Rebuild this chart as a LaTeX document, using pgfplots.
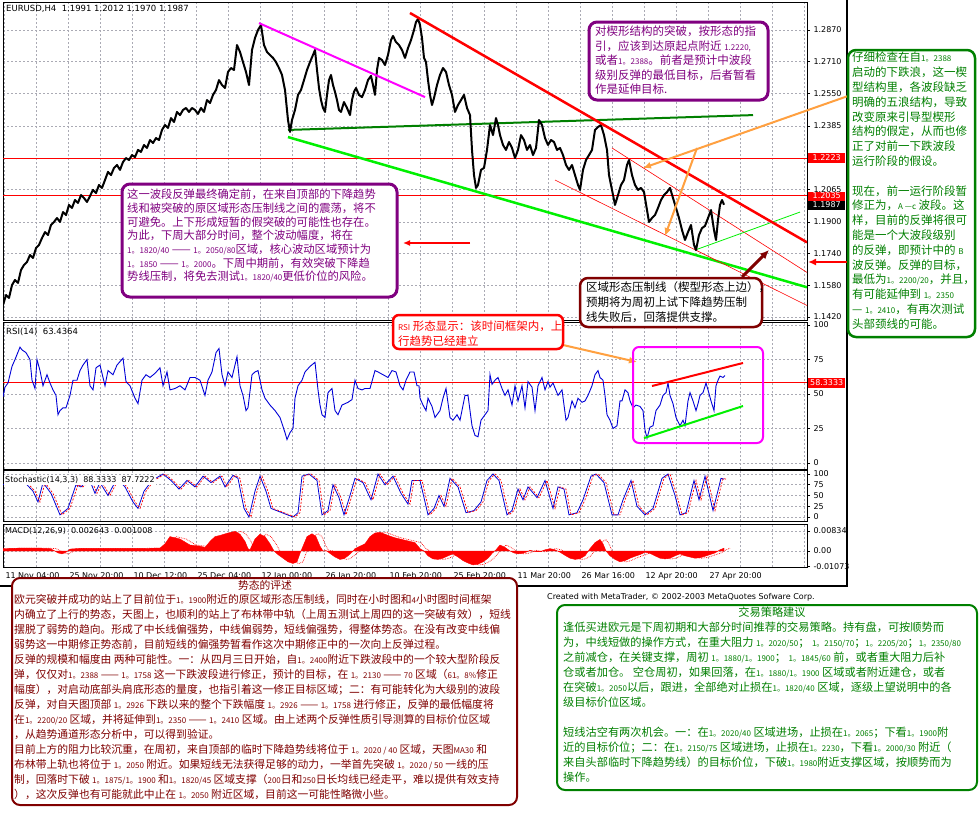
\documentclass[border=0pt]{standalone}
\usepackage{pgfplots}
\pgfplotsset{compat=1.18}
\usepackage{pgfplotstable}
\usepackage{fontspec}
\setmainfont{DejaVu Sans}
\newfontfamily\cjk{Noto Sans CJK SC}
\usetikzlibrary{arrows.meta}

\definecolor{mtpurple}{RGB}{128,0,128}
\definecolor{mtmaroon}{RGB}{128,0,0}
\definecolor{mtgreen}{RGB}{0,128,0}
\definecolor{mtlime}{RGB}{0,240,0}
\definecolor{mtorange}{RGB}{255,160,64}
\definecolor{mtmagenta}{RGB}{255,0,255}
\definecolor{mtblue}{RGB}{0,0,215}
\definecolor{mtgrid}{RGB}{170,170,180}

\newcommand\nm[1]{{\fontsize{8}{8}\selectfont #1}}

\pgfplotsset{
  mtpanel/.style={
    scale only axis, width=804pt, anchor=north west,
    xmin=3, xmax=807,
    axis line style={black, line width=0.8pt},
    xtick={4,36,...,804}, xticklabels={},
    xmajorgrids, ymajorgrids,
    major grid style={mtgrid, dash pattern=on 2pt off 2pt, line width=0.6pt},
    ytick pos=right, yticklabel pos=right,
    tick align=outside, major tick length=3pt,
    xtick style={draw=none},
    ytick style={black, line width=0.6pt},
    scaled y ticks=false,
    ticklabel style={font=\fontsize{8}{9}\selectfont, text=black},
  }
}

% EURUSD H4 closes (x = bar position, y = price)
\pgfplotstableread{
x p
3 1.1480
6 1.1531
9 1.1516
12 1.1581
15 1.1607
18 1.1592
21 1.1657
24 1.1683
27 1.1698
30 1.1733
33 1.1718
36 1.1768
39 1.1784
42 1.1819
45 1.1849
48 1.1834
51 1.1885
54 1.1900
57 1.1920
60 1.1900
63 1.1950
66 1.1935
69 1.1986
72 1.1971
75 1.2011
78 1.1996
81 1.2036
84 1.2021
87 1.2001
90 1.2031
93 1.2062
96 1.2046
99 1.2087
102 1.2072
105 1.2112
108 1.2153
111 1.2137
114 1.2173
117 1.2188
120 1.2163
123 1.2203
126 1.2223
129 1.2213
132 1.2238
135 1.2228
138 1.2264
141 1.2254
144 1.2289
147 1.2274
150 1.2314
153 1.2299
156 1.2324
159 1.2314
162 1.2365
165 1.2390
168 1.2375
171 1.2425
174 1.2405
177 1.2456
180 1.2440
183 1.2466
186 1.2476
189 1.2456
192 1.2476
195 1.2466
198 1.2446
201 1.2476
204 1.2456
207 1.2516
210 1.2501
213 1.2542
216 1.2567
219 1.2617
222 1.2592
225 1.2577
228 1.2658
231 1.2678
234 1.2668
237 1.2794
240 1.2759
243 1.2708
246 1.2658
249 1.2592
252 1.2769
255 1.2830
258 1.2870
261 1.2895
264 1.2794
267 1.2759
270 1.2744
273 1.2729
276 1.2708
279 1.2678
282 1.2643
285 1.2567
288 1.2415
290 1.2355
292 1.2415
295 1.2466
298 1.2542
301 1.2567
304 1.2617
307 1.2668
310 1.2708
313 1.2744
315 1.2769
317 1.2668
319 1.2577
321 1.2516
323 1.2476
325 1.2456
327 1.2542
329 1.2617
331 1.2643
333 1.2592
335 1.2557
337 1.2516
339 1.2466
341 1.2456
344 1.2506
347 1.2476
350 1.2440
352 1.2516
354 1.2557
356 1.2577
359 1.2542
362 1.2531
365 1.2567
368 1.2617
371 1.2638
373 1.2592
375 1.2542
377 1.2668
379 1.2729
382 1.2718
385 1.2693
388 1.2744
391 1.2819
393 1.2840
396 1.2809
399 1.2794
402 1.2769
405 1.2729
408 1.2779
411 1.2819
414 1.2870
416 1.2910
418 1.2926
420 1.2895
422 1.2830
424 1.2729
426 1.2708
428 1.2617
430 1.2542
432 1.2491
434 1.2526
437 1.2592
440 1.2643
443 1.2678
446 1.2658
449 1.2592
452 1.2542
455 1.2456
458 1.2491
461 1.2516
464 1.2542
467 1.2476
470 1.2440
472 1.2264
474 1.2137
476 1.2072
478 1.2087
481 1.2163
484 1.2173
487 1.2264
490 1.2390
493 1.2339
496 1.2425
498 1.2390
500 1.2339
503 1.2289
506 1.2264
509 1.2304
512 1.2274
515 1.2223
518 1.2264
521 1.2339
524 1.2314
527 1.2264
530 1.2289
533 1.2238
536 1.2274
539 1.2415
542 1.2390
545 1.2324
548 1.2289
551 1.2314
554 1.2304
557 1.2264
560 1.2274
563 1.2238
566 1.2188
569 1.2163
572 1.2188
575 1.2137
578 1.2087
580 1.2062
583 1.2163
586 1.2213
589 1.2238
592 1.2264
595 1.2365
598 1.2380
601 1.2390
604 1.2339
607 1.2264
609 1.2137
612 1.2062
615 1.1986
618 1.2036
621 1.2087
624 1.2112
627 1.2188
629 1.2213
632 1.2137
635 1.2087
638 1.2062
641 1.2072
644 1.2051
647 1.1960
649 1.1900
652 1.1920
655 1.1935
658 1.1971
661 1.2011
664 1.2036
667 1.2051
670 1.2072
673 1.2021
676 1.1971
679 1.1920
682 1.1859
685 1.1809
688 1.1849
691 1.1885
694 1.1784
696 1.1758
699 1.1834
702 1.1869
705 1.1880
708 1.1920
711 1.1960
714 1.1859
716 1.1809
718 1.1910
720 1.1986
722 1.2011
724 1.1987
}\price

% RSI(14)
\pgfplotstableread{
x v
3 48
5 55
8 58
12 70
15 75
20 84
22 82
26 80
30 75
32 60
35 54
37 75
40 67
43 56
47 64
50 58
53 53
56 49
58 35
60 38
63 40
66 40
70 49
73 60
77 60
80 67
83 71
87 75
90 56
93 53
96 69
100 71
105 56
108 67
113 64
117 71
123 76
126 59
130 56
135 47
138 43
142 60
146 64
150 62
155 65
160 69
163 56
167 66
170 53
175 54
180 56
185 53
190 62
195 62
200 60
205 49
208 60
212 66
216 80
219 83
222 64
225 56
228 66
232 62
237 77
240 56
243 49
246 38
248 40
252 64
255 66
258 67
262 53
265 47
270 42
275 38
280 33
285 22
287 17
290 22
293 25
295 47
298 56
302 60
305 66
310 70
315 73
318 53
320 42
322 35
325 33
328 51
332 54
335 38
338 35
342 42
348 44
352 46
355 60
358 54
362 53
365 54
370 54
375 67
378 66
383 64
388 62
392 67
396 66
400 56
403 53
406 60
410 66
414 66
417 56
419 56
420 47
423 42
426 38
428 47
432 41
435 33
440 38
443 47
446 54
450 33
453 31
457 35
460 31
465 49
468 49
472 27
475 20
478 19
481 31
485 35
488 38
490 64
492 57
495 60
498 62
502 54
505 49
508 53
512 42
515 56
518 45
522 56
525 40
528 59
532 55
535 38
538 56
542 62
545 53
548 59
550 55
553 58
558 49
562 53
566 31
568 33
572 45
575 40
578 47
582 44
585 45
588 49
592 56
595 64
598 67
600 62
603 60
605 49
607 35
610 31
613 25
617 27
620 45
622 45
625 53
628 51
630 45
633 40
636 42
640 41
643 38
645 24
647 18
650 26
653 27
656 38
660 42
663 49
666 51
668 58
670 49
673 43
676 33
680 27
683 31
685 27
688 45
690 51
693 45
696 38
698 43
700 49
703 51
706 58
708 53
711 45
714 38
716 56
718 60
720 63
723 62
725 63.4
}\rsi

% Stochastic(14,3,3) main line
\pgfplotstableread{
x v
3 75
19 95
33 60
38 35
43 80
51 55
60 5
68 20
76 75
81 70
89 90
95 55
100 80
108 50
117 90
125 70
133 35
138 20
144 60
152 85
163 100
171 85
179 65
187 85
195 70
203 95
211 80
220 95
225 70
233 97
238 90
244 20
249 0
255 60
260 95
266 60
271 20
282 10
293 0
298 10
302 95
309 100
317 85
322 5
328 15
333 75
339 45
344 5
350 50
355 90
363 80
371 40
378 100
385 75
393 95
401 55
408 30
412 85
420 85
428 5
434 20
439 50
444 25
450 90
458 70
466 10
474 15
481 35
487 85
493 100
499 85
507 5
512 15
518 65
523 40
528 70
537 45
545 85
553 20
558 70
564 65
569 5
577 10
583 40
591 95
596 100
604 80
612 5
618 5
623 40
631 85
637 25
645 5
653 20
662 90
668 100
675 50
680 5
686 10
694 85
699 40
705 95
713 15
721 90
724 88
}\stoch

% MACD(12,26,9) main
\pgfplotstableread{
x v
3 0.0010
20 0.0012
40 0.0012
50 0.0010
55 0.0000
58 -0.0008
62 -0.0012
66 -0.0005
70 0.0008
80 0.0011
100 0.0011
120 0.0011
140 0.0011
160 0.0012
165 0.0030
170 0.0060
175 0.0055
180 0.0050
190 0.0025
200 0.0020
205 0.0015
210 0.0040
215 0.0060
220 0.0065
228 0.0075
235 0.0082
240 0.0070
245 0.0040
248 0.0010
250 0.0005
255 0.0050
260 0.0070
265 0.0060
270 0.0030
274 0.0000
278 -0.0015
283 -0.0030
288 -0.0045
293 -0.0052
297 -0.0045
300 -0.0010
303 0.0020
307 0.0060
312 0.0072
316 0.0060
320 0.0020
323 0.0000
326 0.0002
330 -0.0010
335 -0.0025
340 -0.0035
344 -0.0032
348 -0.0020
352 -0.0005
355 0.0010
360 0.0020
365 0.0030
370 0.0060
375 0.0075
380 0.0078
385 0.0070
390 0.0062
395 0.0055
400 0.0050
405 0.0045
410 0.0040
415 0.0035
420 0.0010
424 0.0000
428 -0.0020
433 -0.0033
438 -0.0035
443 -0.0030
448 -0.0020
453 -0.0012
458 -0.0025
463 -0.0040
468 -0.0050
473 -0.0058
478 -0.0055
483 -0.0045
488 -0.0030
492 -0.0010
496 0.0005
500 0.0025
505 0.0015
510 0.0000
514 -0.0008
518 -0.0012
522 -0.0010
526 -0.0005
530 0.0003
535 -0.0002
540 -0.0003
545 0.0005
550 0.0010
555 0.0005
560 -0.0005
565 -0.0018
570 -0.0030
575 -0.0035
580 -0.0032
585 -0.0020
590 0.0010
595 0.0035
600 0.0048
603 0.0030
606 0.0000
610 -0.0020
615 -0.0035
620 -0.0045
625 -0.0040
630 -0.0030
635 -0.0022
640 -0.0015
645 -0.0005
650 -0.0010
655 -0.0020
660 -0.0030
665 -0.0033
670 -0.0030
675 -0.0020
680 -0.0012
685 -0.0020
690 -0.0025
695 -0.0030
700 -0.0028
705 -0.0022
710 -0.0015
715 -0.0008
720 0.0005
724 0.0012
}\macd

\begin{document}
\begin{tikzpicture}
\path[use as bounding box, fill=white] (0pt,0pt) rectangle (979pt,-828pt);

% ---- price panel
\begin{axis}[mtpanel, at={(3pt,-2pt)}, height=318pt,
    ymin=1.14046, ymax=1.30115,
    ytick={1.1420,1.1580,1.1740,1.1900,1.2065,1.2223,1.2385,1.2550,1.2710,1.2870},
    yticklabels={1.1420,1.1580,1.1740,1.1900,1.2065,1.2223,1.2385,1.2550,1.2710,1.2870}]
  \addplot[red, line width=0.8pt] coordinates {(3,1.2223) (807,1.2223)};
  \addplot[red, line width=0.8pt] coordinates {(3,1.2035) (807,1.2035)};
  \addplot[mtgreen, line width=2pt] coordinates {(288,1.2365) (753,1.2440)};
  \addplot[mtlime, line width=2.5pt] coordinates {(288,1.2329) (807,1.1570)};
  \addplot[red, line width=0.6pt] coordinates {(612,1.2274) (807,1.1645)};
  \addplot[red, line width=0.6pt] coordinates {(555,1.2112) (807,1.1478)};
  \addplot[mtlime, line width=0.8pt] coordinates {(695,1.1758) (800,1.1950)};
  \addplot[black, line width=2pt, line join=round] table[x=x, y=p] {\price};
  \addplot[mtmagenta, line width=2pt] coordinates {(259,1.2905) (425,1.2531)};
  \addplot[red, line width=2.5pt] coordinates {(410,1.2956) (807,1.1797)};
\end{axis}

% ---- RSI panel
\begin{axis}[mtpanel, at={(3pt,-322pt)}, height=147pt,
    ymin=-4.35, ymax=102.2,
    ytick={0,25,50,75,100}, yticklabels={0,25,50,75,100}]
  \addplot[red, line width=0.8pt] coordinates {(3,58.3333) (807,58.3333)};
  \addplot[mtblue, line width=0.9pt] table[x=x, y=v] {\rsi};
  \addplot[red, line width=2pt] coordinates {(652,55.8) (743,72.5)};
  \addplot[mtlime, line width=2pt] coordinates {(644,18.1) (743,41.3)};
\end{axis}

% ---- Stochastic panel
\begin{axis}[mtpanel, at={(3pt,-470pt)}, height=51pt,
    ymin=-9.3, ymax=109.3,
    ytick={0,25,50,75,100}, yticklabels={0,25,50,75,100}]
  \addplot[mtblue, line width=0.8pt] table[x=x, y=v] {\stoch};
  \addplot[red, line width=0.7pt, dash pattern=on 2pt off 1.5pt] table[x expr=\thisrow{x}+2, y=v] {\stoch};
\end{axis}

% ---- MACD panel
\begin{axis}[mtpanel, at={(3pt,-524pt)}, height=43pt,
    ymin=-0.00667, ymax=0.01125,
    ytick={0,0.00834}, yticklabels={0.00,0.00834},
    extra y ticks={-0.0063}, extra y tick labels={-0.01073},
    extra y tick style={grid=none},
    xticklabels={11 Nov 04:00,,25 Nov 20:00,,10 Dec 12:00,,25 Dec 04:00,,12 Jan 00:00,,26 Jan 20:00,,10 Feb 20:00,,25 Feb 20:00,,11 Mar 20:00,,26 Mar 16:00,,12 Apr 20:00,,27 Apr 20:00,,,},
    xticklabel style={anchor=north west, xshift=-2pt, yshift=1pt}]
  \addplot[red, fill=red, line width=0.4pt] table[x=x, y=v] {\macd} \closedcycle;
  \addplot[red, line width=0.7pt, densely dotted] table[x expr=\thisrow{x}+6, y=v] {\macd};
\end{axis}

\begin{scope}[x=1pt, y=-1pt]
  % window frame
  \draw[black, line width=2.5pt] (0,586) -- (848,586);
  \draw[black, line width=2pt] (847,0) -- (847,586);

  % indicator captions
  \node[anchor=west, inner sep=0pt, font=\fontsize{8.5}{10}\selectfont] at (6,9) {EURUSD,H4\ \ 1.1991 1.2012 1.1970 1.1987};
  \node[anchor=west, inner sep=0pt, font=\fontsize{8.5}{10}\selectfont] at (6,332) {RSI(14)\ \ 63.4364};
  \node[anchor=west, inner sep=1pt, fill=white, font=\fontsize{8}{10}\selectfont] at (4,480) {Stochastic(14,3,3)\ \ 88.3333\ \ 87.7222};
  \node[anchor=west, inner sep=0pt, font=\fontsize{8}{10}\selectfont] at (5,531) {MACD(12,26,9)\ \ 0.002643\ \ 0.001008};

  % highlighted price labels
  \node[anchor=west, fill=red, text=white, inner sep=1pt, minimum height=10pt, minimum width=37pt, font=\fontsize{8}{9}\selectfont] at (808,158) {1.2223};
  \node[anchor=west, fill=red, text=white, inner sep=1pt, minimum height=9pt, minimum width=37pt, font=\fontsize{8}{9}\selectfont] at (808,196) {1.2035};
  \node[anchor=west, fill=black, text=white, inner sep=1pt, minimum height=9pt, minimum width=37pt, font=\fontsize{8}{9}\selectfont] at (808,205) {1.1987};
  \node[anchor=west, fill=red, text=white, inner sep=1pt, minimum height=10pt, minimum width=37pt, font=\fontsize{8}{9}\selectfont] at (808,383) {58.3333};

  % arrows
  \draw[red, line width=1.5pt, -{Latex[length=7pt,width=6pt]}] (470,243) -- (403,243);
  \draw[red, line width=2.5pt, -{Latex[length=8pt,width=7pt]}] (848,262) -- (808,262);
  \draw[mtmaroon, line width=3pt, -{Latex[length=9pt,width=8pt]}] (742,277) -- (769,250);
  \draw[mtorange, line width=2pt, -{Latex[length=8pt,width=7pt]}] (848,96) -- (643,168);
  \draw[mtorange, line width=2pt, -{Latex[length=8pt,width=7pt]}] (697,148) -- (665,236);
  \draw[mtorange, line width=2pt, -{Latex[length=8pt,width=7pt]}] (563,345) -- (637,362);

  % RSI box outline
  \draw[mtmagenta, line width=2pt, rounded corners=6pt] (633,347) rectangle (763,443);

  % top purple note
  \draw[mtpurple, line width=3pt, rounded corners=8pt, fill=white] (589,22) rectangle (768,100);
  \node[anchor=north west, inner sep=0pt, align=left, text=mtpurple, font=\cjk\fontsize{11.5}{14.5}\selectfont] at (595,26)
    {对楔形结构的突破，按形态的指\\
     引，应该到达原起点附近 \nm{1.2220,}\\
     或者\nm{1。2388}。前者是预计中波段\\
     级别反弹的最低目标，后者暂看\\
     作是延伸目标.};

  % left purple note
  \draw[mtpurple, line width=3pt, rounded corners=8pt, fill=white] (122,184) rectangle (397,297);
  \node[anchor=north west, inner sep=0pt, align=left, text=mtpurple, font=\cjk\fontsize{11.3}{13.7}\selectfont] at (127,189)
    {这一波段反弹最终确定前，在来自顶部的下降趋势\\
     线和被突破的原区域形态压制线之间的震荡，将不\\
     可避免。上下形成短暂的假突破的可能性也存在。\\
     为此，下周大部分时间，整个波动幅度，将在\\
     \nm{1。1820/40} —— \nm{1。2050/80}区域，核心波动区域预计为\\
     \nm{1。1850} —— \nm{1。2000}。下周中期前，有效突破下降趋\\
     势线压制，将免去测试\nm{1。1820/40}更低价位的风险。};

  % maroon note in price panel
  \draw[mtmaroon, line width=2.5pt, rounded corners=8pt, fill=white] (580,278) rectangle (762,327);
  \node[anchor=north west, inner sep=0pt, align=left, text=black, font=\cjk\fontsize{11.5}{15}\selectfont] at (586,281)
    {区域形态压制线（楔型形态上边），\\
     预期将为周初上试下降趋势压制\\
     线失败后，回落提供支撑。};

  % RSI note
  \draw[red, line width=2.5pt, rounded corners=6pt, fill=white] (393,315) rectangle (563,349);
  \node[anchor=north west, inner sep=0pt, align=left, text=red, font=\cjk\fontsize{11.5}{15}\selectfont] at (398,321)
    {\nm{RSI} 形态显示：该时间框架内，上\\
     行趋势已经建立};

  % right green note
  \draw[mtgreen, line width=2.5pt, rounded corners=8pt, fill=white] (848,50) rectangle (975,337);
  \node[anchor=north west, inner sep=0pt, align=left, text=mtgreen, font=\cjk\fontsize{11.5}{14.8}\selectfont] at (852,52)
    {仔细检查在自\nm{1。2388}\\
     启动的下跌浪，这一楔\\
     型结构里，各波段缺乏\\
     明确的五浪结构，导致\\
     改变原来引导型楔形\\
     结构的假定，从而也修\\
     正了对前一下跌波段\\
     运行阶段的假设。\\[14.8pt]
     现在，前一运行阶段暂\\
     修正为，\nm{A —c} 波段。这\\
     样，目前的反弹将很可\\
     能是一个大波段级别\\
     的反弹，即预计中的 \nm{B}\\
     波反弹。反弹的目标，\\
     最低为\nm{1。2200/20}，并且，\\
     有可能延伸到 \nm{1。2350}\\
     — \nm{1。2410}，有再次测试\\
     头部颈线的可能。};

  \node[anchor=west, inner sep=0pt, font=\fontsize{8}{10}\selectfont] at (547,597)
    {Created with MetaTrader, \textcopyright{} 2002-2003 MetaQuotes Sofware Corp.};

  % bottom left review
  \draw[mtmaroon, line width=2pt, rounded corners=8pt, fill=white] (12,578) rectangle (517,805);
  \node[inner sep=0pt, text=mtmaroon, font=\cjk\fontsize{10.8}{15}\selectfont] at (265,585) {势态的评述};
  \node[anchor=north west, inner sep=0pt, align=left, text=mtmaroon, font=\cjk\fontsize{10.8}{15}\selectfont] at (14,594)
    {欧元突破并成功的站上了目前位于\nm{1。1900}附近的原区域形态压制线，同时在小时图和\nm{4}小时图时间框架\\
     内确立了上行的势态，天图上，也顺利的站上了布林带中轨（上周五测试上周四的这一突破有效），短线\\
     摆脱了弱势的趋向。形成了中长线偏强势，中线偏弱势，短线偏强势，得整体势态。在没有改变中线偏\\
     弱势这一中期修正势态前，目前短线的偏强势暂看作这次中期修正中的一次向上反弹过程。\\
     反弹的规模和幅度由 两种可能性。一：从四月三日开始，自\nm{1。2400}附近下跌波段中的一个较大型阶段反\\
     弹，仅仅对\nm{1。2388} —— \nm{1。1758} 这一下跌波段进行修正，预计的目标，在 \nm{1。2130} —— \nm{70} 区域（\nm{61。8\%}修正\\
     幅度），对启动底部头肩底形态的量度，也指引着这一修正目标区域；二：有可能转化为大级别的波段\\
     反弹，对自天图顶部 \nm{1。2926} 下跌以来的整个下跌幅度 \nm{1。2926} —— \nm{1。1758} 进行修正，反弹的最低幅度将\\
     在\nm{1。2200/20} 区域，并将延伸到\nm{1。2350} —— \nm{1。2410} 区域。由上述两个反弹性质引导测算的目标价位区域\\
     ，从趋势通道形态分析中，可以得到验证。\\
     目前上方的阻力比较沉重，在周初，来自顶部的临时下降趋势线将位于 \nm{1。2020 / 40} 区域，天图\nm{MA30} 和\\
     布林带上轨也将位于 \nm{1。2050} 附近。如果短线无法获得足够的动力，一举首先突破 \nm{1。2020 / 50} 一线的压\\
     制，回落时下破 \nm{1。1875/1。1900} 和\nm{1。1820/45} 区域支撑（\nm{200}日和\nm{250}日长均线已经走平，难以提供有效支持\\
     ），这次反弹也有可能就此中止在 \nm{1。2050} 附近区域，目前这一可能性略微小些。};

  % bottom right strategy
  \draw[mtgreen, line width=2pt, rounded corners=8pt, fill=white] (557,605) rectangle (977,790);
  \node[inner sep=0pt, text=mtgreen, font=\cjk\fontsize{11.2}{15}\selectfont] at (772,612) {交易策略建议};
  \node[anchor=north west, inner sep=0pt, align=left, text=mtgreen, font=\cjk\fontsize{11.2}{15}\selectfont] at (563,622)
    {逢低买进欧元是下周初期和大部分时间推荐的交易策略。持有盘，可按顺势而\\
     为，中线短做的操作方式，在重大阻力 \nm{1。2020/50}； \nm{1。2150/70}；\nm{1。2205/20}；\nm{1。2350/80}\\
     之前减仓，在关键支撑，周初 \nm{1。1880/1。1900}； \nm{1。1845/60} 前，或者重大阻力后补\\
     仓或者加仓。 空仓周初，如果回落，在\nm{1。1880/1。1900} 区域或者附近建仓，或者\\
     在突破\nm{1。2050}以后，跟进，全部绝对止损在\nm{1。1820/40} 区域，逐级上望说明中的各\\
     级目标价位区域。\\[15pt]
     短线沽空有两次机会。一：在\nm{1。2020/40} 区域进场，止损在\nm{1。2065}；下看\nm{1。1900}附\\
     近的目标价位；二：在\nm{1。2150/75} 区域进场，止损在\nm{1。2230}，下看\nm{1。2000/30} 附近（\\
     来自头部临时下降趋势线）的目标价位，下破\nm{1。1980}附近支撑区域，按顺势而为\\
     操作。};
\end{scope}
\end{tikzpicture}
\end{document}
